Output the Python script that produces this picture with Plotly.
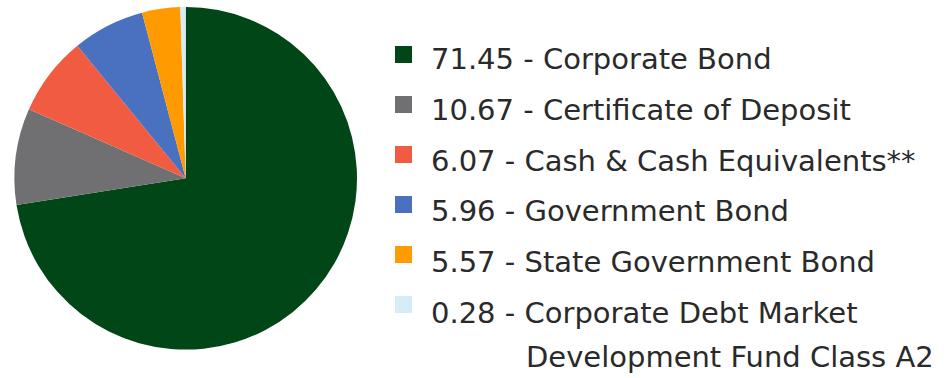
import plotly.graph_objects as go

categories = ["Corporate Bond", "Certificate of Deposit", "Cash & Cash Equivalents**",
              "Government Bond", "State Government Bond",
              "Corporate Debt Market Development Fund Class A2"]
# legend values as printed
value_labels = ["71.45", "10.67", "6.07", "5.96", "5.57", "0.28"]
# slice sizes as drawn in the picture
slice_values = [72.5, 9.1, 7.5, 6.8, 3.6, 0.5]
colors = ["#004616", "#707073", "#f15b41", "#4a71c0", "#ff9a00", "#d6edf7"]

W, H = 949, 378

fig = go.Figure()
fig.add_trace(go.Pie(
    labels=categories,
    values=slice_values,
    sort=False,
    direction="clockwise",
    rotation=0,
    marker=dict(colors=colors, line=dict(width=0)),
    textinfo="none",
    hoverinfo="label",
    showlegend=False,
    domain=dict(x=[14.4 / W, 357 / W], y=[1 - 349.6 / H, 1 - 7 / H]),
))

FONT = "DejaVu Sans"
FS = 29
TXT = "#2a2a2a"

shapes = []
annotations = []
for i, (cat, val, col) in enumerate(zip(categories, value_labels, colors)):
    sq_top = 46 + 50 * i
    shapes.append(dict(type="rect", xref="paper", yref="paper",
                       x0=395 / W, x1=412 / W,
                       y0=1 - (sq_top + 17) / H, y1=1 - sq_top / H,
                       fillcolor=col, line=dict(width=0)))
    text_c = 59 + 50.8 * i
    if i == 5:
        first = val + " - Corporate Debt Market"
        annotations.append(dict(text=first, xref="paper", yref="paper",
                                x=429 / W, y=1 - text_c / H, xanchor="left",
                                yanchor="middle", showarrow=False,
                                font=dict(family=FONT, size=FS, color=TXT)))
        annotations.append(dict(text="Development Fund Class A2", xref="paper", yref="paper",
                                x=524 / W, y=1 - (text_c + 44) / H, xanchor="left",
                                yanchor="middle", showarrow=False,
                                font=dict(family=FONT, size=FS, color=TXT)))
    else:
        annotations.append(dict(text=f"{val} - {cat}", xref="paper", yref="paper",
                                x=429 / W, y=1 - text_c / H, xanchor="left",
                                yanchor="middle", showarrow=False,
                                font=dict(family=FONT, size=FS, color=TXT)))

fig.update_layout(
    width=W, height=H,
    margin=dict(l=0, r=0, t=0, b=0),
    paper_bgcolor="white",
    plot_bgcolor="white",
    shapes=shapes,
    annotations=annotations,
)

fig.write_html("out.html")
